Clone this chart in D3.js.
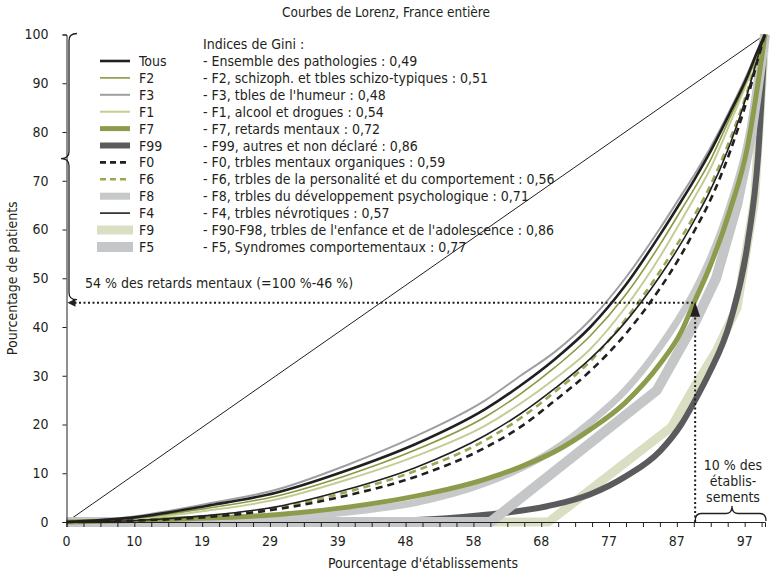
<!DOCTYPE html>
<html>
<head>
<meta charset="utf-8">
<script src="https://cdn.jsdelivr.net/npm/d3@7"></script>
<style>
  body { margin: 0; background: #fff; }
  text { font-family: "Liberation Sans Narrow", "Arial Narrow", "DejaVu Sans Condensed", sans-serif; fill: #231f20; }
</style>
</head>
<body>
<div id="chart"></div>
<script>
// shared x grid (% of establishments) for the smooth curves
var gridX = [0, 10, 20, 30, 40, 50, 60, 65, 70, 75, 80, 85, 88, 90, 92, 95, 97.5, 99, 100];

var tousY = [0, 1.0, 3.3, 6.0, 10.5, 16.0, 23.2, 28, 33.5, 40, 48.5, 59, 65.8, 70.5, 75.5, 84, 91.5, 96.8, 100];
var f3Y   = [0, 1.2, 3.7, 6.6, 11.6, 17.6, 25, 30, 35, 41.5, 50, 60.3, 67, 71.5, 76.3, 84.5, 92, 97, 100];
var f2Y   = [0, 0.8, 2.8, 5.3, 9.5, 14.8, 21.6, 26.3, 31.8, 38.2, 46.5, 57, 64, 68.7, 73.7, 83, 91, 96.5, 100];
var f1Y   = [0, 0.6, 2.3, 4.6, 8.6, 13.5, 19.8, 24.3, 29.5, 35.5, 44, 54.5, 61.8, 66.8, 72, 81.8, 90.5, 96.3, 100];
var f4Y   = [0, 0.3, 1.3, 3.1, 6.6, 11.2, 17.8, 22.2, 27.5, 33.5, 41, 50.5, 57.2, 62.2, 67.5, 77.5, 88, 95.5, 100];
var f6Y   = [0, 0.3, 1.2, 2.9, 6.1, 10.5, 16.8, 21.3, 26.8, 33, 41.5, 51.5, 58.3, 63.2, 68.5, 78.5, 88.5, 95.8, 100];
var f0Y   = [0, 0.3, 1.0, 2.6, 5.4, 9.3, 15.3, 19.5, 25, 31, 38.5, 48, 54.8, 60, 65.5, 76, 87, 95, 100];
var f7Y   = [0, 0.3, 0.8, 1.5, 3.0, 5.3, 8.8, 11.3, 14.5, 19, 24.5, 32.5, 39, 45.5, 52, 64, 77, 90, 100];
var f8Y   = [0, 0.1, 0.4, 0.9, 2.0, 4.0, 8.0, 11, 15, 20.5, 27, 36, 42.5, 47.5, 53.5, 65, 78, 90.5, 100];
var f99Y  = [0, 0, 0, 0.05, 0.1, 0.4, 1.5, 2.3, 3.6, 5.7, 9.3, 14.6, 20, 25, 30.5, 41, 57, 75, 100];

// coarse series (few points, drawn as straight segments)
var f5X = [0, 60.7, 84.5, 90, 93, 96, 98, 100];
var f5Y = [0, 0, 27, 41, 50, 65, 79, 100];
var f9X = [0, 69, 86.6, 90, 93, 96, 98.5, 100];
var f9Y = [0, 0, 19.5, 28, 35, 44, 66, 100];

var legendNames = ["Tous", "F2", "F3", "F1", "F7", "F99", "F0", "F6", "F8", "F4", "F9", "F5"];
var giniLabels = [
  "- Ensemble des pathologies : 0,49",
  "- F2, schizoph. et tbles schizo-typiques : 0,51",
  "- F3, tbles de l'humeur : 0,48",
  "- F1, alcool et drogues : 0,54",
  "- F7, retards mentaux : 0,72",
  "- F99, autres et non déclaré : 0,86",
  "- F0, trbles mentaux organiques : 0,59",
  "- F6, trbles de la personalité et du comportement : 0,56",
  "- F8, trbles du développement psychologique : 0,71",
  "- F4, trbles névrotiques : 0,57",
  "- F90-F98, trbles de l'enfance et de l'adolescence : 0,86",
  "- F5, Syndromes comportementaux : 0,77"
];
var xTickLabels = ["0", "10", "19", "29", "39", "48", "58", "68", "77", "87", "97"];
var yTicks = [0, 10, 20, 30, 40, 50, 60, 70, 80, 90, 100];

var W = 773, H = 572;
var FS = "14px";
var svg = d3.select("#chart").append("svg").attr("width", W).attr("height", H);

var x = d3.scaleLinear().domain([0, 100]).range([66.5, 765]);
var y = d3.scaleLinear().domain([0, 100]).range([522, 34.5]);

function zip(xs, ys) { return xs.map(function(v, i) { return [v, ys[i]]; }); }

// style per series
var styles = {
  "Tous": {c: "#231f20", w: 2.6},
  "F2":   {c: "#8a9a3f", w: 1.6},
  "F3":   {c: "#9d9fa2", w: 2},
  "F1":   {c: "#c5cc96", w: 2},
  "F7":   {c: "#8d9c4c", w: 5},
  "F99":  {c: "#5a5b5d", w: 6},
  "F0":   {c: "#231f20", w: 2.6, dash: "7,5"},
  "F6":   {c: "#9aa855", w: 2.6, dash: "7,5"},
  "F8":   {c: "#c6c8ca", w: 7},
  "F4":   {c: "#231f20", w: 1.6},
  "F9":   {c: "#dadfc3", w: 9},
  "F5":   {c: "#c4c6c8", w: 10}
};

var series = {
  "Tous": zip(gridX, tousY), "F2": zip(gridX, f2Y), "F3": zip(gridX, f3Y),
  "F1": zip(gridX, f1Y), "F7": zip(gridX, f7Y), "F99": zip(gridX, f99Y),
  "F0": zip(gridX, f0Y), "F6": zip(gridX, f6Y), "F8": zip(gridX, f8Y),
  "F4": zip(gridX, f4Y), "F9": zip(f9X, f9Y), "F5": zip(f5X, f5Y)
};

// title
svg.append("text").attr("x", 386).attr("y", 17).attr("text-anchor", "middle")
  .style("font-size", "13.5px").text("Courbes de Lorenz, France entière");

// equality diagonal
svg.append("line")
  .attr("x1", x(0)).attr("y1", y(0)).attr("x2", x(100)).attr("y2", y(100))
  .attr("stroke", "#231f20").attr("stroke-width", 1);

// curves, thick ones first
var drawOrder = ["F9", "F99", "F5", "F8", "F7", "F1", "F3", "F2", "F6", "F0", "F4", "Tous"];
drawOrder.forEach(function(k) {
  var line = d3.line()
    .x(function(d) { return x(d[0]); })
    .y(function(d) { return y(d[1]); })
    .curve(k === "F5" || k === "F9" ? d3.curveLinear : d3.curveMonotoneX);
  svg.append("path")
    .datum(series[k])
    .attr("d", line)
    .attr("fill", "none")
    .attr("stroke", styles[k].c)
    .attr("stroke-width", styles[k].w)
    .attr("stroke-dasharray", styles[k].dash || null)
    .attr("stroke-linejoin", "round");
});

// axes
var xTickVals = d3.range(0, 42).map(function(i) { return i * 250 / 103; });
svg.append("g")
  .attr("transform", "translate(0," + y(0) + ")")
  .call(d3.axisBottom(x).tickValues(xTickVals).tickSize(5).tickFormat(""))
  .call(function(g) { g.select(".domain").attr("stroke", "#231f20"); g.selectAll(".tick line").attr("stroke", "#231f20"); });

svg.append("g")
  .selectAll("text")
  .data(xTickLabels)
  .enter().append("text")
  .attr("x", function(d, i) { return x(i * 1000 / 103); })
  .attr("y", 546)
  .attr("text-anchor", "middle")
  .style("font-size", FS)
  .text(function(d) { return d; });

svg.append("g")
  .attr("transform", "translate(" + x(0) + ",0)")
  .call(d3.axisLeft(y).tickValues(yTicks).tickSize(4).tickPadding(14))
  .call(function(g) {
    g.select(".domain").attr("stroke", "#231f20");
    g.selectAll(".tick line").attr("stroke", "#231f20");
    g.selectAll(".tick text").style("font-size", FS).attr("font-family", null);
  });

svg.append("text")
  .attr("transform", "translate(17," + ((y(0) + y(100)) / 2) + ") rotate(-90)")
  .attr("text-anchor", "middle").style("font-size", FS)
  .text("Pourcentage de patients");

svg.append("text")
  .attr("x", 423).attr("y", 568).attr("text-anchor", "middle").style("font-size", FS)
  .text("Pourcentage d'établissements");

// legend
var rowY = function(i) { return 61 + i * 16.9; };
var leg = svg.append("g");
legendNames.forEach(function(k, i) {
  var s = styles[k];
  var x1 = s.w >= 9 ? 97 : 100, x2 = s.w >= 9 ? 133 : 130;
  leg.append("line")
    .attr("x1", x1).attr("x2", x2).attr("y1", rowY(i)).attr("y2", rowY(i))
    .attr("stroke", s.c).attr("stroke-width", s.w)
    .attr("stroke-dasharray", s.dash ? "6,4" : null);
  leg.append("text").attr("x", 139).attr("y", rowY(i) + 5)
    .style("font-size", FS).text(k);
});
leg.append("text").attr("x", 203).attr("y", rowY(-1) + 5)
  .style("font-size", FS).text("Indices de Gini :");
giniLabels.forEach(function(t, i) {
  leg.append("text").attr("x", 203).attr("y", rowY(i) + 5)
    .style("font-size", FS).text(t);
});

// brace helpers
function vBrace(x0, w, y1, y2, ym) {
  var r = 7, xm = x0 + w / 2;
  return "M" + (x0 + w) + "," + y1 + " Q" + xm + "," + y1 + " " + xm + "," + (y1 + r) +
    " L" + xm + "," + (ym - r) + " Q" + xm + "," + ym + " " + x0 + "," + ym +
    " Q" + xm + "," + ym + " " + xm + "," + (ym + r) +
    " L" + xm + "," + (y2 - r) + " Q" + xm + "," + y2 + " " + (x0 + w) + "," + y2;
}
function hBrace(x1, x2, y0, h, xm) {
  var r = 6, ym = y0 - h / 2;
  return "M" + x1 + "," + y0 + " Q" + x1 + "," + ym + " " + (x1 + r) + "," + ym +
    " L" + (xm - r) + "," + ym + " Q" + xm + "," + ym + " " + xm + "," + (y0 - h) +
    " Q" + xm + "," + ym + " " + (xm + r) + "," + ym +
    " L" + (x2 - r) + "," + ym + " Q" + x2 + "," + ym + " " + x2 + "," + y0;
}

// left brace (100 % down to 46 %)
svg.append("path")
  .attr("d", vBrace(61, 16, y(100) - 1, y(45) - 3, (y(100) + y(45)) / 2 - 10))
  .attr("fill", "none").attr("stroke", "#231f20").attr("stroke-width", 1.3);

// dotted guide lines
var yg = y(45), xg = x(90);
svg.append("line")
  .attr("x1", x(0) + 8).attr("x2", xg).attr("y1", yg).attr("y2", yg)
  .attr("stroke", "#231f20").attr("stroke-width", 2).attr("stroke-dasharray", "2,2.5");
svg.append("line")
  .attr("x1", xg).attr("x2", xg).attr("y1", y(0)).attr("y2", yg + 10)
  .attr("stroke", "#231f20").attr("stroke-width", 2).attr("stroke-dasharray", "2,2.5");
svg.append("path")
  .attr("d", "M" + (x(0) + 1) + "," + yg + " L" + (x(0) + 9) + "," + (yg - 4) + " L" + (x(0) + 9) + "," + (yg + 4) + "Z")
  .attr("fill", "#231f20");
svg.append("path")
  .attr("d", "M" + xg + "," + (yg - 1) + " L" + (xg - 5) + "," + (yg + 14) + " L" + (xg + 5) + "," + (yg + 14) + "Z")
  .attr("fill", "#231f20");

svg.append("text").attr("x", 85).attr("y", 288).style("font-size", FS)
  .text("54 % des retards mentaux (=100 %-46 %)");

// bottom-right brace and note
svg.append("path")
  .attr("d", hBrace(xg, x(100) + 1, y(0) - 1, 15, 732))
  .attr("fill", "none").attr("stroke", "#231f20").attr("stroke-width", 1.3);
["10 % des", "établis-", "sements"].forEach(function(t, i) {
  svg.append("text").attr("x", 733).attr("y", 470 + i * 16)
    .attr("text-anchor", "middle").style("font-size", FS).text(t);
});
</script>
</body>
</html>
